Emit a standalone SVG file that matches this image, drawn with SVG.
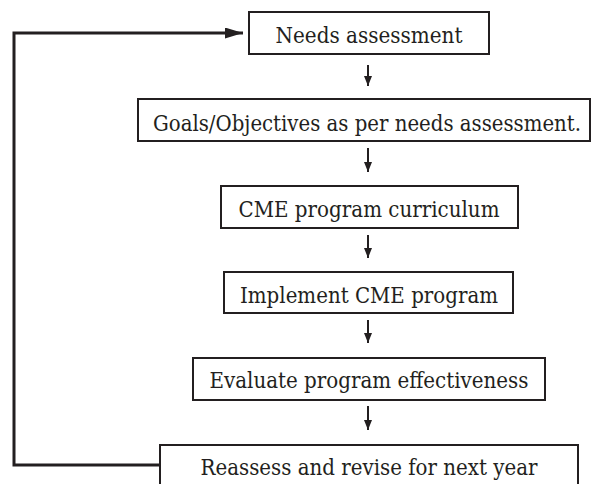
<svg xmlns="http://www.w3.org/2000/svg" width="592" height="484" viewBox="0 0 592 484">
<defs>
<style>
.box{fill:#fff;stroke:#231f20;stroke-width:2}
.lbl{font-family:"DejaVu Serif","Liberation Serif",serif;font-size:22px;fill:#231f20;text-anchor:middle}
.down{stroke:#231f20;stroke-width:2;fill:none}
.fb{stroke:#231f20;stroke-width:3;fill:none}
</style>
<marker id="hd" markerUnits="userSpaceOnUse" viewBox="0 0 10 8" refX="10" refY="4" markerWidth="10" markerHeight="8" orient="auto"><path d="M0,0 L10,4 L0,8 Z" fill="#231f20"/></marker>
<marker id="hb" markerUnits="userSpaceOnUse" viewBox="0 0 18 11" refX="18" refY="5.5" markerWidth="18" markerHeight="11" orient="auto"><path d="M0,0 L18,5.5 L0,11 Z" fill="#231f20"/></marker>
</defs>
<g id="connectors">
<path class="down" d="M368,65 V86" marker-end="url(#hd)"/>
<path class="down" d="M368,148 V172" marker-end="url(#hd)"/>
<path class="down" d="M368,235 V258" marker-end="url(#hd)"/>
<path class="down" d="M368,320 V343" marker-end="url(#hd)"/>
<path class="down" d="M368,406 V430" marker-end="url(#hd)"/>
<path class="fb" d="M160,465 H14 V33 H243" marker-end="url(#hb)"/>
</g>
<g id="n1"><rect class="box" x="249" y="12" width="240" height="42"/><text class="lbl" x="369" y="43" textLength="187" lengthAdjust="spacingAndGlyphs">Needs assessment</text></g>
<g id="n2"><rect class="box" x="138" y="99" width="452" height="42"/><text class="lbl" x="367" y="131" textLength="428" lengthAdjust="spacingAndGlyphs">Goals/Objectives as per needs assessment.</text></g>
<g id="n3"><rect class="box" x="221" y="186" width="297" height="42"/><text class="lbl" x="369" y="217" textLength="261" lengthAdjust="spacingAndGlyphs">CME program curriculum</text></g>
<g id="n4"><rect class="box" x="224" y="272" width="289" height="41"/><text class="lbl" x="369" y="303" textLength="258" lengthAdjust="spacingAndGlyphs">Implement CME program</text></g>
<g id="n5"><rect class="box" x="193" y="358" width="352" height="42"/><text class="lbl" x="369" y="388" textLength="319" lengthAdjust="spacingAndGlyphs">Evaluate program effectiveness</text></g>
<g id="n6"><rect class="box" x="160" y="445" width="418" height="50"/><text class="lbl" x="369" y="475" textLength="337" lengthAdjust="spacingAndGlyphs">Reassess and revise for next year</text></g>
</svg>
